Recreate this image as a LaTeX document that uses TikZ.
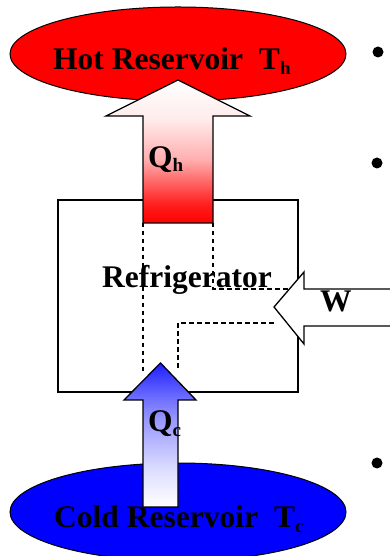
\documentclass[tikz,border=0pt]{standalone}
\usepackage{fontspec}
\setmainfont{Liberation Serif}
\newcommand\lowsub[2]{\raisebox{-#1pt}{\fontsize{19}{19}\selectfont\bfseries #2}}
\definecolor{qcblue}{RGB}{30,30,255}
\pgfdeclareverticalshading{hotsh}{100bp}{color(0bp)=(red); color(25bp)=(red); color(31.5bp)=(red!88); color(40bp)=(red!58); color(47bp)=(red!32); color(61bp)=(red!8); color(75bp)=(white); color(100bp)=(white)}
\pgfdeclareverticalshading{coldsh}{100bp}{color(0bp)=(white); color(25bp)=(white); color(38bp)=(qcblue!15); color(55bp)=(qcblue!45); color(62bp)=(qcblue!62); color(75bp)=(qcblue); color(100bp)=(qcblue)}
\begin{document}
\begin{tikzpicture}[x=1pt,y=1pt,
  lbl/.style={inner sep=0pt, anchor=base west, font=\fontsize{31.5}{36}\selectfont\bfseries},
  res/.style={draw=black, line width=1pt},
  dashln/.style={draw=black, dash pattern=on 4.5pt off 3.5pt, line width=1.3pt},
  blk/.style={draw=black, line width=1.3pt, line join=miter}]
\useasboundingbox (0,0) rectangle (390,556);
\clip (0,0) rectangle (390,556);
\fill[white] (0,0) rectangle (390,556);

% reservoirs
\draw[res, fill=red] (178,502) ellipse [x radius=168, y radius=47];
\draw[res, fill=blue] (178,44) ellipse [x radius=168, y radius=49];

% refrigerator box
\draw[blk] (58,164) rectangle (298,356);

% internal dashed paths
\coordinate (d1a) at (143,333); \coordinate (d1b) at (143,181);
\coordinate (d2a) at (213,333); \coordinate (d2b) at (213,267); \coordinate (d2c) at (304,267);
\coordinate (d3a) at (178,188); \coordinate (d3b) at (178,233); \coordinate (d3c) at (276,233);
\draw[dashln] (d1a) -- (d1b);
\draw[dashln] (d2a) -- (d2b) -- (d2c);
\draw[dashln] (d3a) -- (d3b) -- (d3c);

% Q_h arrow
\draw[blk, shading=hotsh]
  (143,333) -- (143,440) -- (106,440) -- (178,476) -- (250,440) -- (213,440) -- (213,333) -- cycle;
% Q_c arrow
\draw[blk, shading=coldsh]
  (143,49) -- (143,156) -- (124,156) -- (160.5,193) -- (196,156) -- (178,156) -- (178,49) -- cycle;
% W arrow
\draw[blk, fill=white]
  (395,267) -- (304,267) -- (304,284) -- (274,249) -- (304,212) -- (304,230) -- (395,230) -- cycle;

% labels
\node[lbl] (hot) at (53,486) {Hot Reservoir\hspace{16pt}T\lowsub{5}{h}};
\node[lbl] (cold) at (54,28) {Cold Reservoir\hspace{16pt}T\lowsub{5}{c}};
\node[lbl] (ref) at (102,268) {Refrigerator};
\node[lbl] (w) at (320,244) {W};
\node[lbl] (qh) at (148,388) {Q\lowsub{4}{h}};
\node[lbl] (qc) at (148,124) {Q\lowsub{5}{c}};

% bullets
\fill (378,504) circle (5.5);
\fill (377,393) circle (5.5);
\fill (377,93) circle (5.5);
\end{tikzpicture}
\end{document}
